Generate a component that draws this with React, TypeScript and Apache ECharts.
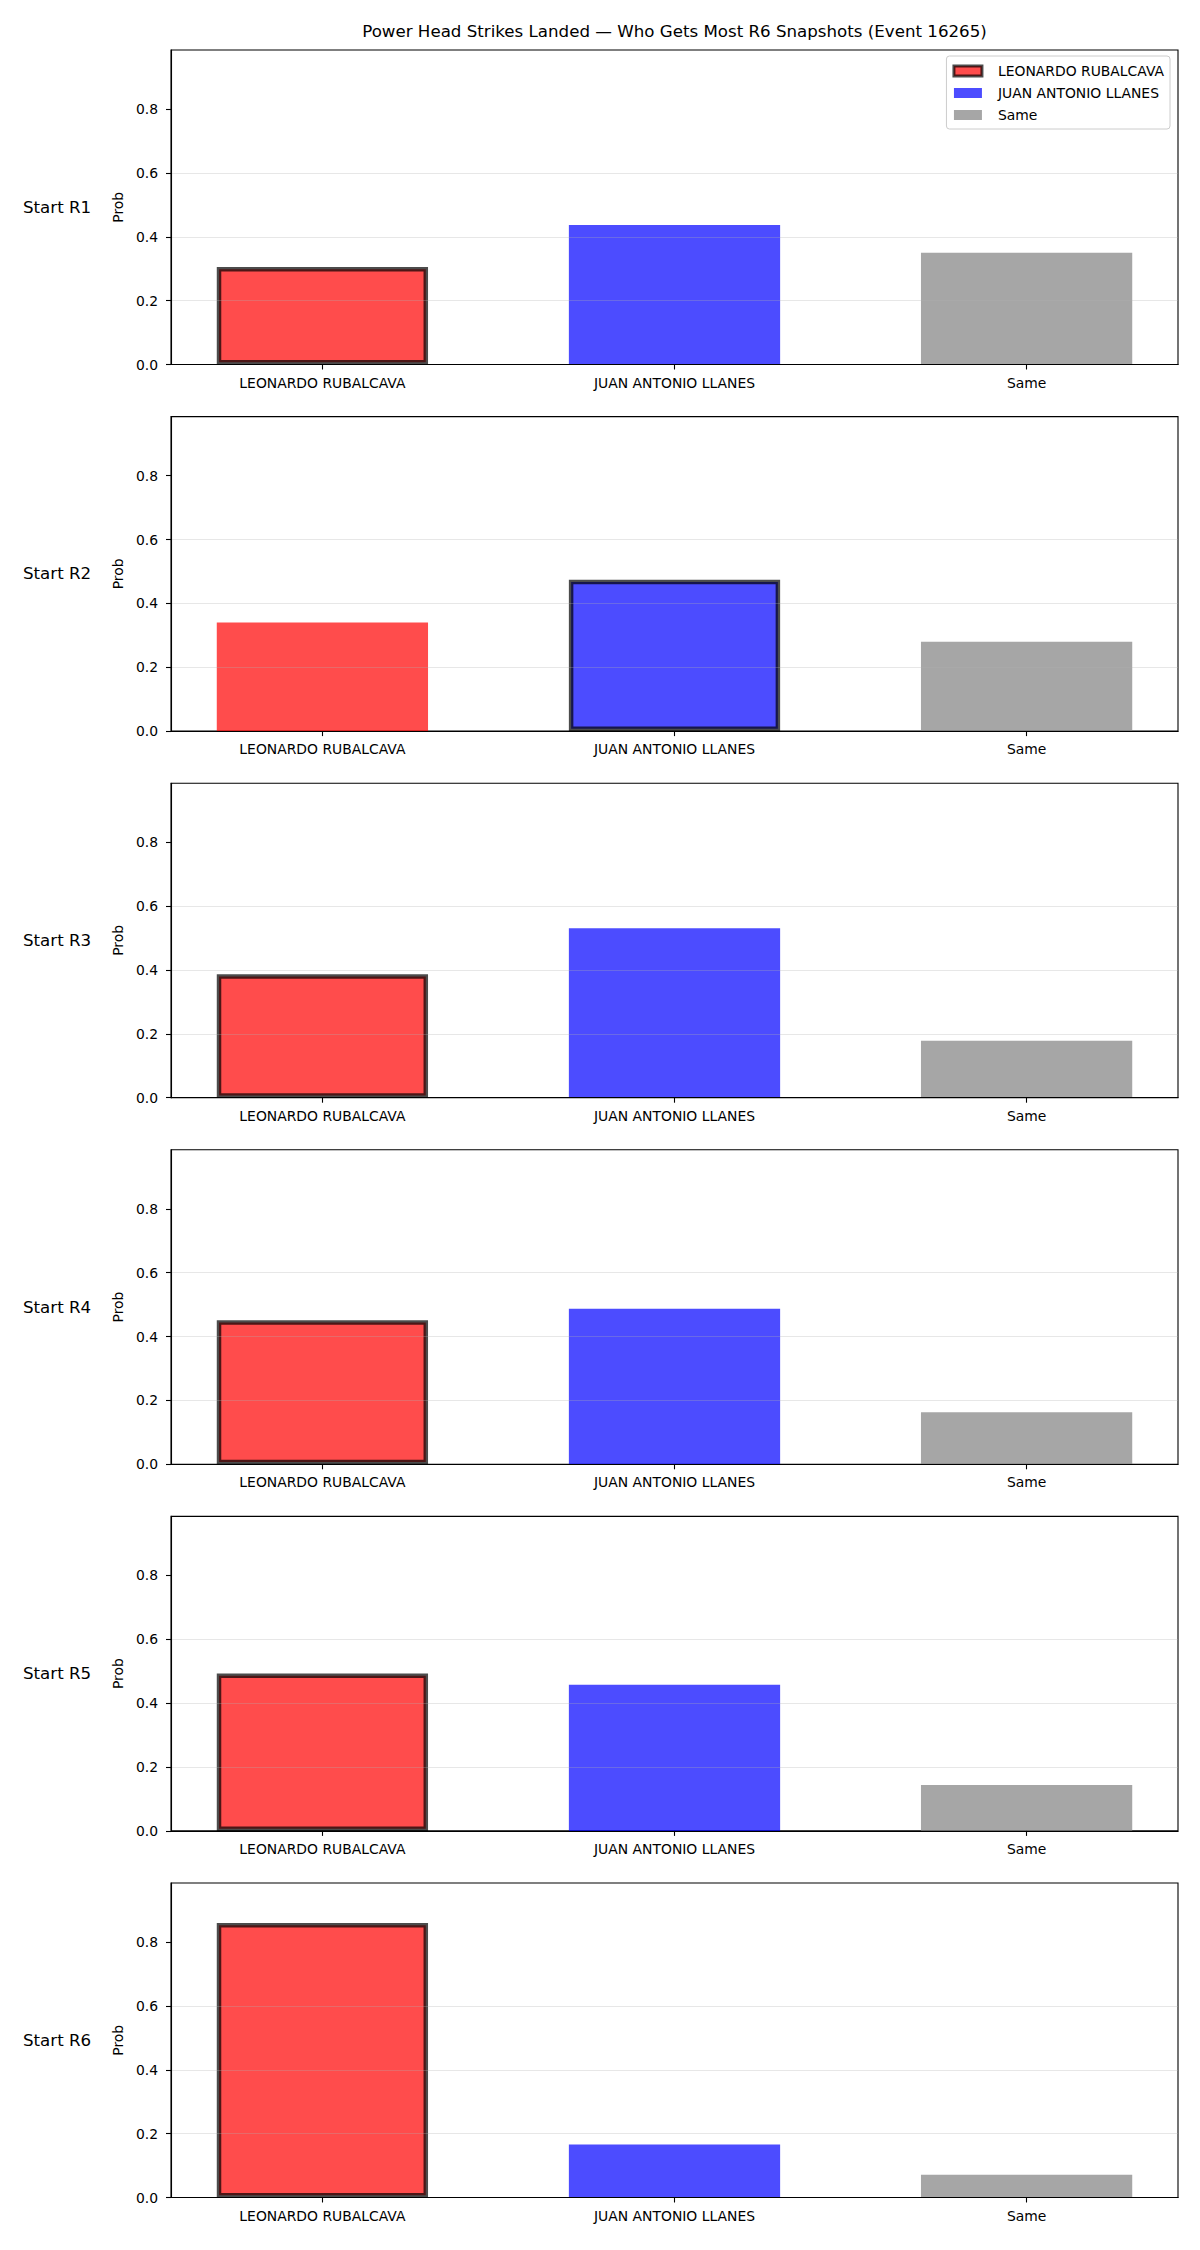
import React, { useEffect, useRef } from "react";
import * as echarts from "echarts";

const CATEGORIES = ["LEONARDO RUBALCAVA", "JUAN ANTONIO LLANES", "Same"];
const ROUND_LABELS = ["Start R1", "Start R2", "Start R3", "Start R4", "Start R5", "Start R6"];
const LEONARDO = [0.305, 0.34, 0.387, 0.451, 0.493, 0.86];
const JUAN = [0.437, 0.474, 0.531, 0.487, 0.458, 0.166];
const SAME = [0.35, 0.28, 0.178, 0.163, 0.144, 0.071];
const HIGHLIGHT = [0, 1, 0, 0, 0, 0];
const Y_TICKS = [0, 0.2, 0.4, 0.6, 0.8];
const X_TICKS = [0, 1, 2];
const TITLE = "Power Head Strikes Landed — Who Gets Most R6 Snapshots (Event 16265)";

const COLORS = ["rgba(255,0,0,0.7)", "rgba(0,0,255,0.7)", "rgba(128,128,128,0.7)"];
const EDGE = "rgba(0,0,0,0.7)";
const FONT = "DejaVu Sans";

const W = 1200;
const H = 2250;
const GRID_LEFT = 171;
const GRID_WIDTH = 1007;
const GRID_TOP0 = 50;
const GRID_STEP = 366.6;
const GRID_H = 314.5;
const X_MIN = -0.43;
const X_MAX = 2.43;
const Y_MAX = 0.985;
const BAR_W = (0.6 * GRID_WIDTH) / (X_MAX - X_MIN);

export default function App() {
  const ref = useRef<HTMLDivElement>(null);
  useEffect(() => {
    document.body.style.margin = "0";
    if (!ref.current) return;
    const chart = echarts.init(ref.current, null, { renderer: "svg" });
    const values = [LEONARDO, JUAN, SAME];
    const grids: any[] = [];
    const xAxes: any[] = [];
    const yAxes: any[] = [];
    const series: any[] = [];
    const titles: any[] = [
      {
        text: TITLE,
        left: GRID_LEFT + GRID_WIDTH / 2,
        top: 31,
        textAlign: "center",
        textVerticalAlign: "middle",
        padding: 0,
        textStyle: { fontFamily: FONT, fontSize: 16.67, fontWeight: "normal", color: "#000" },
      },
    ];
    ROUND_LABELS.forEach((lab, p) => {
      const top = GRID_TOP0 + GRID_STEP * p;
      grids.push({
        left: GRID_LEFT,
        top,
        width: GRID_WIDTH,
        height: GRID_H,
        show: true,
        borderColor: "#000",
        borderWidth: 1.1,
        backgroundColor: "transparent",
        containLabel: false,
      });
      titles.push({
        text: lab,
        left: 23,
        top: top + GRID_H / 2,
        textAlign: "left",
        textVerticalAlign: "middle",
        padding: 0,
        textStyle: { fontFamily: FONT, fontSize: 16.67, fontWeight: "normal", color: "#000" },
      });
      xAxes.push({
        type: "value",
        gridIndex: p,
        min: X_MIN,
        max: X_MAX,
        z: 6,
        axisLine: { show: true, onZero: false, lineStyle: { color: "#000", width: 1.1 } },
        axisTick: { show: true, customValues: X_TICKS, length: 5, lineStyle: { color: "#000", width: 1.1 } },
        axisLabel: {
          show: true,
          customValues: X_TICKS,
          margin: 11,
          fontFamily: FONT,
          fontSize: 13.9,
          color: "#000",
          formatter: (v: number) => CATEGORIES[Math.round(v)] ?? "",
        },
        splitLine: { show: false },
      });
      yAxes.push({
        type: "value",
        gridIndex: p,
        min: 0,
        max: Y_MAX,
        interval: 0.2,
        z: 5,
        name: "Prob",
        nameLocation: "middle",
        nameRotate: 90,
        nameGap: 45,
        nameTextStyle: { fontFamily: FONT, fontSize: 13.9, color: "#000" },
        axisLine: { show: true, onZero: false, lineStyle: { color: "#000", width: 1.1 } },
        axisTick: { show: true, customValues: Y_TICKS, length: 5, lineStyle: { color: "#000", width: 1.1 } },
        axisLabel: {
          show: true,
          customValues: Y_TICKS,
          margin: 13,
          fontFamily: FONT,
          fontSize: 13.9,
          color: "#000",
          formatter: (v: number) => v.toFixed(1),
        },
        splitLine: {
          show: true,
          showMinLine: false,
          showMaxLine: false,
          lineStyle: { color: "rgba(176,176,176,0.3)", width: 1.1 },
        },
      });
      CATEGORIES.forEach((name, c) => {
        const item: any = { value: [c, values[c][p]] };
        if (HIGHLIGHT[p] === c) {
          item.itemStyle = { color: COLORS[c], borderColor: EDGE, borderWidth: 4.5 };
        }
        series.push({
          type: "bar",
          name,
          xAxisIndex: p,
          yAxisIndex: p,
          barWidth: BAR_W,
          barGap: "-100%",
          itemStyle: { color: COLORS[c], borderWidth: 0 },
          emphasis: { disabled: true },
          data: [item],
        });
      });
    });

    chart.setOption({
      animation: false,
      backgroundColor: "#fff",
      textStyle: { fontFamily: FONT },
      title: titles,
      legend: {
        orient: "vertical",
        right: 30,
        top: 56,
        padding: [7, 6, 6, 6],
        itemWidth: 28,
        itemHeight: 10,
        itemGap: 6,
        icon: "rect",
        align: "left",
        backgroundColor: "rgba(255,255,255,0.8)",
        borderColor: "#cccccc",
        borderWidth: 1,
        borderRadius: 3,
        selectedMode: false,
        textStyle: { fontFamily: FONT, fontSize: 13.9, color: "#000", lineHeight: 16, padding: [0, 0, 0, 11] },
        data: [
          { name: CATEGORIES[0], itemStyle: { color: COLORS[0], borderColor: EDGE, borderWidth: 3 } },
          { name: CATEGORIES[1], itemStyle: { color: COLORS[1] } },
          { name: CATEGORIES[2], itemStyle: { color: COLORS[2] } },
        ],
      },
      grid: grids,
      xAxis: xAxes,
      yAxis: yAxes,
      series,
    });
    return () => chart.dispose();
  }, []);
  return <div ref={ref} style={{ width: W, height: H }} />;
}
